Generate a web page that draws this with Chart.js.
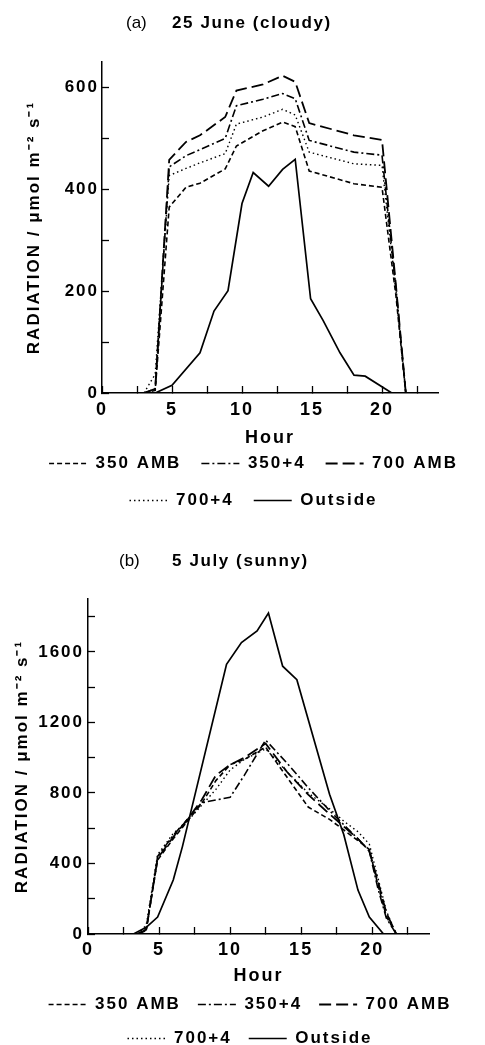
<!DOCTYPE html>
<html>
<head>
<meta charset="utf-8">
<script src="https://cdn.jsdelivr.net/npm/chart.js@4.4.0/dist/chart.umd.min.js"></script>
<style>
body { margin: 0; background: #fff; width: 485px; height: 1045px; position: relative; overflow: hidden; font-family: 'Liberation Sans', Arial, sans-serif; color: #000; }
canvas { position: absolute; left: 0; }
.tag { position: absolute; font-size: 17px; line-height: 20px; }
.head { position: absolute; font-size: 17px; line-height: 20px; font-weight: bold; letter-spacing: 1.6px; }
</style>
</head>
<body>
<canvas id="chartA" width="485" height="520" style="top:0"></canvas>
<canvas id="chartB" width="485" height="538" style="top:519px"></canvas>
<div class="tag" style="left:126px;top:13px">(a)</div>
<div class="head" style="left:172px;top:13px">25 June (cloudy)</div>
<div class="tag" style="left:119px;top:551px">(b)</div>
<div class="head" style="left:172px;top:551px">5 July (sunny)</div>
<script>

// (a) 25 June - greenhouse curves share the same hours
const hoursA = [3, 3.8, 4.8, 6, 7, 8.8, 9.6, 11.5, 12.9, 13.8, 14.8, 18, 20, 21, 21.7];
const amb350A = [0, 5, 365, 404, 412, 440, 485, 515, 532, 523, 436, 411, 404, 190, 0];
const plus350A = [0, 8, 444, 466, 478, 500, 564, 577, 588, 578, 496, 473, 467, 205, 0];
const amb700A = [0, 8, 458, 493, 506, 542, 594, 606, 623, 611, 530, 506, 497, 210, 0];
const plus700A = [0, 37, 427, 441, 452, 470, 528, 542, 557, 546, 473, 450, 447, 200, 0];
const outHoursA = [3.8, 5, 7, 8, 9, 10, 10.8, 11.9, 12.9, 13.8, 14.9, 15.8, 17, 18, 18.8, 20.7];
const outsideA = [0, 15, 79, 161, 201, 372, 433, 406, 439, 459, 185, 142, 79, 35, 33, 0];

// (b) 5 July
const hoursB = [3.5, 4.1, 4.9, 6, 7, 8, 9, 10, 11, 12.5, 14, 15.5, 17, 18, 19, 19.8, 20.4, 21, 21.7];
const amb350B = [0, 30, 420, 540, 640, 740, 870, 960, 990, 1060, 890, 720, 650, 590, 530, 480, 280, 100, 0];
const plus350B = [0, 20, 440, 560, 650, 745, 760, 775, 900, 1100, 970, 830, 700, 620, 540, 470, 260, 90, 0];
const amb700B = [0, 25, 430, 550, 650, 760, 900, 960, 1000, 1080, 920, 790, 680, 610, 540, 470, 300, 120, 0];
const plus700B = [0, 50, 450, 570, 640, 730, 820, 930, 990, 1050, 920, 800, 710, 640, 580, 510, 320, 130, 0];
const outHoursB = [3.2, 4.1, 4.9, 6, 6.65, 9.75, 10.8, 11.9, 12.7, 13.7, 14.7, 17, 18, 19, 19.8, 20.8];
const outsideB = [0, 38, 96, 306, 497, 1530, 1653, 1719, 1820, 1519, 1442, 793, 564, 249, 96, 0];

const seriesNames = ['350 AMB', '350+4', '700 AMB', '700+4', 'Outside'];

Chart.defaults.font.family = "'Liberation Sans', Arial, sans-serif";
Chart.defaults.font.weight = 'bold';
Chart.defaults.color = '#000';

// the scanned figure has wide letter spacing
const spacing = {
    id: 'spacing',
    beforeLayout(chart) { chart.ctx.letterSpacing = '2px'; },
    beforeDraw(chart) { chart.ctx.letterSpacing = '2px'; }
};

function makeSet(label, hours, values, dash, width) {
    return {
        label: label,
        data: hours.map((h, i) => ({ x: h, y: values[i] })),
        borderColor: '#000',
        backgroundColor: '#000',
        borderWidth: width,
        borderDash: dash,
        pointRadius: 0,
        tension: 0,
        fill: false
    };
}

// legend samples drawn as short lines with the dataset dash
function legendLabels(chart) {
    const items = Chart.defaults.plugins.legend.labels.generateLabels(chart);
    items.forEach(item => {
        const ds = chart.data.datasets[item.datasetIndex];
        item.lineDash = ds.borderDash;
        item.lineWidth = ds.borderWidth;
        item.pointStyle = 'line';
    });
    return items;
}

function createChart(id, sets, lay) {
    const ctx = document.getElementById(id).getContext('2d');
    return new Chart(ctx, {
        type: 'line',
        data: { datasets: sets },
        plugins: [spacing],
        options: {
            responsive: false,
            animation: false,
            events: [],
            layout: { padding: { top: lay.padTop, bottom: lay.padBottom, left: lay.padLeft, right: 0 } },
            scales: {
                x: {
                    type: 'linear',
                    min: 0,
                    max: 24,
                    border: { display: true, color: '#000', width: 1.5 },
                    grid: { display: true, drawOnChartArea: false, tickLength: -7, color: '#000', tickWidth: 1.3 },
                    ticks: {
                        stepSize: 2.5,
                        includeBounds: false,
                        autoSkip: false,
                        maxRotation: 0,
                        padding: lay.xTickPad,
                        font: { size: 18, weight: 'bold' },
                        callback: v => (v % 5 === 0 ? v : '')
                    },
                    title: { display: true, text: 'Hour', font: { size: 18, weight: 'bold' }, padding: { top: 0, bottom: lay.xTitlePad } },
                    afterFit: s => { s.height = lay.xHeight; }
                },
                y: {
                    type: 'linear',
                    min: 0,
                    max: lay.yMax,
                    border: { display: true, color: '#000', width: 1.5 },
                    grid: { display: true, drawOnChartArea: false, tickLength: -7, color: '#000', tickWidth: 1.3 },
                    ticks: {
                        stepSize: lay.yStep,
                        includeBounds: false,
                        padding: lay.yTickPad,
                        font: { size: 17, weight: 'bold' },
                        callback: v => (v % lay.yLabelStep === 0 ? v : '')
                    },
                    title: { display: true, text: 'RADIATION / μmol m⁻² s⁻¹', font: { size: 17, weight: 'bold' }, padding: { top: lay.yTitlePad, bottom: 0 } },
                    afterFit: s => { s.width = lay.yWidth; }
                },
                pad: {
                    type: 'linear',
                    position: 'right',
                    display: true,
                    grid: { display: false },
                    border: { display: false },
                    ticks: { display: false },
                    afterFit: s => { s.width = lay.rightWidth; }
                }
            },
            plugins: {
                title: { display: false },
                tooltip: { enabled: false },
                legend: {
                    display: true,
                    position: 'bottom',
                    labels: {
                        usePointStyle: true,
                        pointStyleWidth: 38,
                        padding: lay.legendPad,
                        color: '#000',
                        font: { size: 17, weight: 'bold' },
                        generateLabels: legendLabels
                    }
                }
            }
        }
    });
}

function buildSets(hours, out, outHours, a350, p350, a700, p700) {
    return [
        makeSet(seriesNames[0], hours, a350, [5, 3], 1.6),
        makeSet(seriesNames[1], hours, p350, [8, 3, 2, 3], 1.6),
        makeSet(seriesNames[2], hours, a700, [12, 5], 1.8),
        makeSet(seriesNames[3], hours, p700, [1.5, 3], 1.4),
        makeSet(seriesNames[4], outHours, out, [], 1.7)
    ];
}

window.onload = function () {
    createChart('chartA', buildSets(hoursA, outsideA, outHoursA, amb350A, plus350A, amb700A, plus700A), {
        yMax: 650, yStep: 100, yLabelStep: 200,
        padTop: 62, padBottom: 1, padLeft: 22,
        yWidth: 80, rightWidth: 47, xHeight: 42,
        yTickPad: 10, yTitlePad: 2, xTickPad: 13, xTitlePad: -14, legendPad: 20
    });
    createChart('chartB', buildSets(hoursB, outsideB, outHoursB, amb350B, plus350B, amb700B, plus700B), {
        yMax: 1900, yStep: 200, yLabelStep: 400,
        padTop: 80, padBottom: 0, padLeft: 15,
        yWidth: 73, rightWidth: 56, xHeight: 45,
        yTickPad: 11, yTitlePad: -3, xTickPad: 12, xTitlePad: -8, legendPad: 17
    });
};
</script>
</body>
</html>
